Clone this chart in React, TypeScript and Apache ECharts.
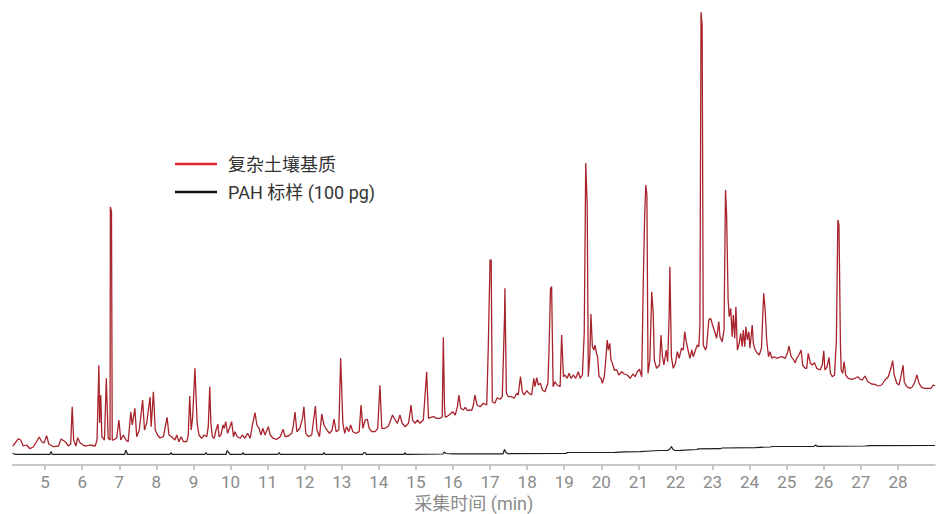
import React, { useEffect, useRef } from "react";
import * as echarts from "echarts";

const seriesNames = ["复杂土壤基质", "PAH 标样 (100 pg)"];
const xAxisTitle = "采集时间 (min)";

// [retention time (min), response]
const matrixTrace: [number, number][] = [
  [4.13,19],[4.28,26.3],[4.34,25],[4.41,19],[4.50,20],[4.59,16.3],[4.68,18],[4.77,23.3],[4.84,28],[4.91,23.3],[4.97,22],
  [5.04,29.3],[5.10,21],[5.22,18.3],[5.36,19],[5.43,26],[5.54,23.3],[5.63,19],[5.69,21],[5.73,58.3],[5.77,25],[5.83,19],
  [5.88,27.3],[5.94,22.3],[6.03,19.7],[6.12,19],[6.21,20],[6.35,19],[6.40,25],[6.45,99.7],[6.47,42],[6.50,70],[6.53,28.3],
  [6.60,25],[6.65,86.7],[6.70,27],[6.75,25],[6.76,258],[6.79,253],[6.81,25],[6.84,25],[6.93,27],[6.99,45],[7.04,25],
  [7.11,30],[7.18,25],[7.24,23.3],[7.31,53.3],[7.35,40],[7.42,56.7],[7.47,28.3],[7.54,35],[7.63,65],[7.68,35],[7.74,42],
  [7.83,68],[7.86,38.3],[7.92,73.3],[7.97,35],[8.03,30],[8.10,27],[8.19,28.3],[8.29,47.7],[8.34,30],[8.41,28.3],[8.50,25],
  [8.55,30],[8.61,23.3],[8.67,28.3],[8.73,23.3],[8.82,23.3],[8.86,30],[8.90,69],[8.94,35],[8.98,48.3],[9.04,96.7],
  [9.10,41.7],[9.15,30],[9.22,26.7],[9.29,30],[9.36,28.3],[9.40,38.3],[9.44,78.3],[9.47,41.7],[9.51,28.3],[9.56,26.7],
  [9.61,35],[9.66,41],[9.69,28.3],[9.74,30],[9.80,40],[9.83,36.7],[9.87,43.3],[9.92,31.7],[9.97,36.7],[10.03,43.3],
  [10.08,28.3],[10.12,33.3],[10.18,28.3],[10.26,26.7],[10.32,30],[10.39,26.7],[10.46,31.7],[10.53,26.7],[10.59,40],
  [10.66,52.3],[10.71,40],[10.77,36.7],[10.82,30],[10.87,36.7],[10.93,30],[11.02,38.3],[11.07,30],[11.15,26.7],
  [11.25,25.7],[11.34,28.3],[11.42,35.7],[11.47,28.3],[11.56,29],[11.65,31.7],[11.69,38.3],[11.74,53],[11.79,33.3],
  [11.87,36.7],[11.94,46.7],[11.98,58.3],[12.03,31.7],[12.10,28.3],[12.19,30],[12.24,45],[12.29,59],[12.33,35],
  [12.40,28.3],[12.46,51],[12.52,40],[12.60,35],[12.67,31.7],[12.74,35],[12.79,46],[12.85,33.3],[12.92,35],[12.97,106.7],
  [13.03,41.7],[13.08,31.7],[13.13,38.3],[13.19,33.3],[13.24,40],[13.30,33.3],[13.38,31.7],[13.47,33.3],[13.52,60],
  [13.57,36.7],[13.63,45],[13.69,45.7],[13.74,36.7],[13.81,33.3],[13.90,33.3],[13.97,36.7],[14.03,79.7],[14.08,36.7],
  [14.17,36.7],[14.26,39],[14.32,45],[14.37,50],[14.44,45],[14.50,41.7],[14.57,50],[14.63,41.7],[14.71,38.3],[14.80,41.7],
  [14.87,60],[14.91,45],[14.98,41.7],[15.04,45],[15.11,41.7],[15.20,45],[15.25,71.7],[15.29,93.3],[15.34,46.7],
  [15.40,47.7],[15.47,48.3],[15.56,46.7],[15.65,46.7],[15.71,48],[15.74,127.7],[15.77,60],[15.79,48],[15.83,48.3],
  [15.92,50.7],[15.99,53.3],[16.06,50],[16.12,58.3],[16.16,70],[16.21,56.7],[16.28,55],[16.33,57.7],[16.39,54.3],
  [16.46,55],[16.51,55],[16.55,60],[16.59,70],[16.65,60],[16.73,58.3],[16.82,61.7],[16.91,60],[16.95,115],[17.00,205],
  [17.03,205],[17.06,63.3],[17.13,61.7],[17.19,67.3],[17.27,65.7],[17.33,68.3],[17.39,148.3],[17.40,176.7],[17.44,71.7],
  [17.49,68.3],[17.58,68.3],[17.65,66.7],[17.72,71.7],[17.76,70],[17.82,88.3],[17.87,73.3],[17.92,70],[17.99,74.3],
  [18.05,71.7],[18.12,70],[18.18,86.7],[18.21,78.3],[18.26,87.3],[18.30,80],[18.36,81.7],[18.41,75],[18.48,73.3],
  [18.56,81.7],[18.59,115],[18.63,176.7],[18.66,178.3],[18.70,78.3],[18.75,83.3],[18.81,80],[18.89,78.3],[18.93,130],
  [18.98,88.3],[19.02,90],[19.08,86.7],[19.13,91.7],[19.18,86.7],[19.25,90],[19.31,86.7],[19.38,93.3],[19.43,86.7],
  [19.49,90],[19.54,131.7],[19.58,302],[19.62,260],[19.65,88.3],[19.69,108.3],[19.72,151],[19.76,118.3],[19.80,115],
  [19.83,120],[19.87,111.7],[19.90,108.3],[19.94,88.3],[19.99,86.7],[20.03,81.7],[20.08,88.3],[20.12,105],[20.16,125],
  [20.19,115],[20.23,121.7],[20.26,105],[20.30,101.7],[20.35,95],[20.42,95],[20.47,90],[20.55,93.3],[20.62,91],
  [20.70,90],[20.78,86.7],[20.85,91],[20.91,88.3],[20.97,93.3],[21.03,95.7],[21.09,88.3],[21.13,178.3],[21.17,250],
  [21.20,280],[21.23,270],[21.26,91.7],[21.31,105],[21.36,173.3],[21.40,151.7],[21.43,105],[21.49,96.7],[21.57,100],
  [21.61,130],[21.65,108.3],[21.69,100],[21.75,115],[21.79,103.3],[21.83,150],[21.85,198.3],[21.89,108.3],[21.94,96.7],
  [22.00,101.7],[22.05,113.3],[22.10,106.7],[22.16,116.7],[22.21,115],[22.25,133.3],[22.29,123.3],[22.34,115],
  [22.39,106.7],[22.44,115],[22.48,108.3],[22.54,115],[22.59,120],[22.63,118.3],[22.66,140],[22.69,453],[22.72,440],
  [22.75,120],[22.81,115],[22.84,118.3],[22.90,145],[22.95,146.7],[23.00,140],[23.06,133.3],[23.11,126.7],[23.17,143.3],
  [23.20,128.3],[23.26,123.3],[23.31,135],[23.35,275],[23.38,250],[23.42,165],[23.45,148.3],[23.49,156.7],[23.53,128.3],
  [23.56,150],[23.60,126.7],[23.63,158.3],[23.67,115],[23.72,121.7],[23.76,131.7],[23.80,118.3],[23.83,135],[23.87,118.3],
  [23.90,138.3],[23.94,125],[23.98,133.3],[24.01,116.7],[24.07,140],[24.10,121.7],[24.15,115],[24.21,111.7],[24.26,110],
  [24.32,116.7],[24.35,145],[24.38,171.7],[24.42,155],[24.46,125],[24.51,108.3],[24.55,113.3],[24.60,106.7],[24.66,108.3],
  [24.73,106.7],[24.80,107.7],[24.87,108.3],[24.96,106.7],[25.03,113.3],[25.06,119],[25.12,108.3],[25.18,105.7],
  [25.23,102.3],[25.27,106.7],[25.33,110],[25.39,115],[25.43,100],[25.50,96.7],[25.54,96.7],[25.58,111.7],[25.64,101.7],
  [25.69,100],[25.75,102.3],[25.81,96.7],[25.90,95],[25.96,100],[26.00,114.3],[26.03,95],[26.09,98.3],[26.14,107.7],
  [26.18,91.7],[26.23,88.3],[26.29,90],[26.34,125],[26.38,245],[26.41,240],[26.45,120],[26.47,95],[26.51,91.7],
  [26.55,103.3],[26.59,90],[26.66,86.7],[26.75,85.7],[26.84,86.7],[26.92,88.3],[26.98,85.7],[27.04,85],[27.11,89],
  [27.19,83.3],[27.29,81],[27.38,80.7],[27.47,79],[27.56,80],[27.65,85],[27.74,88.3],[27.81,96.7],[27.86,104.3],
  [27.90,90],[27.97,81.7],[28.03,80],[28.08,88.3],[28.14,99.7],[28.17,83.3],[28.24,78.3],[28.33,76.7],[28.39,78.3],
  [28.46,83.3],[28.51,90],[28.57,81.7],[28.64,77.7],[28.73,76.7],[28.82,76.7],[28.89,76.7],[28.95,80],[29.00,79],
];

const pahTrace: [number, number][] = [
  [4.12,11.5],[4.22,10.7],[5.13,10.7],[5.16,13.5],[5.19,10.7],[7.15,10.7],[7.17,15],[7.20,13],[7.22,10.7],
  [8.37,10.7],[8.40,12.5],[8.42,10.7],[9.31,10.7],[9.34,12.5],[9.37,10.7],[9.88,10.7],[9.91,14.5],[9.95,12.5],
  [9.99,10.7],[10.31,10.7],[10.34,12.5],[10.36,10.7],[11.28,10.7],[11.31,12.5],[11.34,10.7],[12.50,10.7],[12.52,12.5],
  [12.55,10.7],[13.57,10.7],[13.60,12.5],[13.64,12.2],[13.66,10.7],[14.68,10.7],[14.71,12.3],[14.73,10.7],[15.73,11],
  [15.76,13],[15.81,11.5],[16.00,11.2],[17.35,11.2],[17.39,15.5],[17.43,12.5],[17.48,11.3],[19.05,11.5],[19.08,12.5],
  [20.37,12.7],[20.64,13.2],[21.04,13.3],[21.31,14],[21.58,14.5],[21.80,14.7],[21.85,16],[21.89,18.3],[21.94,15.5],
  [21.99,14.5],[22.13,14.7],[22.58,15.5],[22.61,16.2],[23.20,16.3],[23.26,17],[24.15,17.3],[24.28,17.7],[24.55,18],
  [24.63,18.5],[25.74,18.7],[25.78,20],[25.82,18.7],[27.11,19],[27.25,19.3],[29.00,19.5],
];

const FONT = "Roboto, 'Noto Sans CJK SC', 'Noto Sans', sans-serif";

export default function App() {
  const ref = useRef<HTMLDivElement>(null);
  useEffect(() => {
    const chart = echarts.init(ref.current!, null, { renderer: "svg" });
    chart.setOption({
      animation: false,
      backgroundColor: "#ffffff",
      textStyle: { fontFamily: FONT },
      grid: { left: 12.5, right: 12, top: 12, bottom: 49, containLabel: false, outerBoundsMode: "none" },
      legend: {
        orient: "vertical",
        left: 175,
        top: 154,
        padding: 0,
        icon: "rect",
        itemWidth: 42,
        itemHeight: 2.5,
        itemGap: 8,
        textStyle: { fontSize: 18, color: "#333333", lineHeight: 20, padding: [0, 0, 0, 6], fontFamily: FONT },
        data: [
          { name: seriesNames[0], itemStyle: { color: "#e2262c" } },
          { name: seriesNames[1], itemStyle: { color: "#111111" } },
        ],
      },
      xAxis: {
        type: "value",
        min: 4.12,
        max: 29,
        splitNumber: 25,
        axisLine: { lineStyle: { color: "#b5b5b5", width: 1.5 } },
        axisTick: { show: true, length: 5, lineStyle: { color: "#b5b5b5", width: 1.5 } },
        axisLabel: { color: "#8a8a8a", fontSize: 17, margin: 8, showMinLabel: false, showMaxLabel: false, fontFamily: FONT },
        splitLine: { show: false },
        name: xAxisTitle,
        nameLocation: "middle",
        nameGap: 29,
        nameTextStyle: { color: "#8a8a8a", fontSize: 18, fontFamily: FONT },
      },
      yAxis: { type: "value", min: 0, max: 453, show: false },
      series: [
        {
          name: seriesNames[0],
          type: "line",
          data: matrixTrace,
          symbol: "none",
          showSymbol: false,
          silent: true,
          lineStyle: { color: "#a8232b", width: 1.3 },
          itemStyle: { color: "#a8232b" },
          z: 2,
        },
        {
          name: seriesNames[1],
          type: "line",
          data: pahTrace,
          symbol: "none",
          showSymbol: false,
          silent: true,
          lineStyle: { color: "#1c1c1c", width: 1.2 },
          itemStyle: { color: "#1c1c1c" },
          z: 3,
        },
      ],
    });
    return () => chart.dispose();
  }, []);
  return <div ref={ref} style={{ position: "absolute", left: 0, top: 0, width: 947, height: 514 }} />;
}
